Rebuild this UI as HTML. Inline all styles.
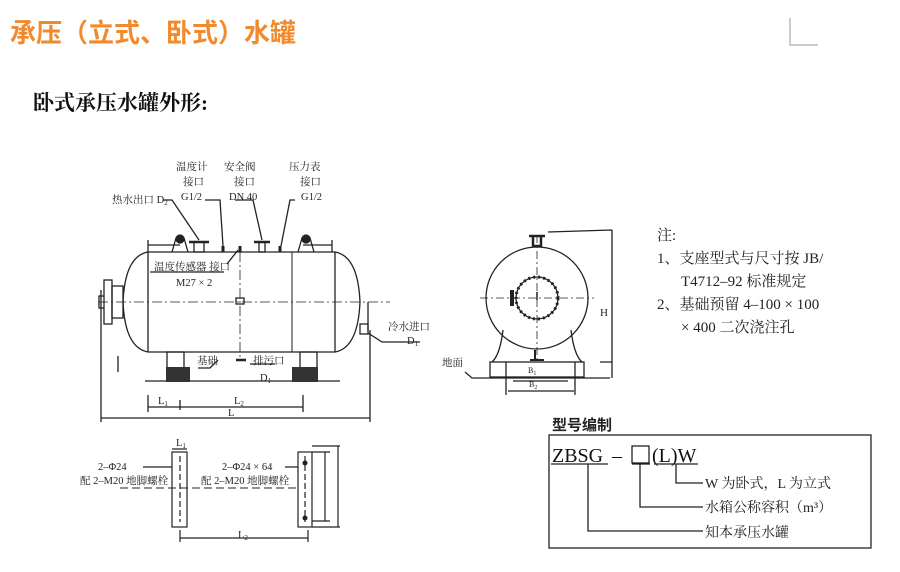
<!DOCTYPE html>
<html><head><meta charset="utf-8"><style>
body{margin:0;background:#fff;width:900px;height:572px;overflow:hidden}
svg{display:block}
.t{font-family:"Liberation Serif","Noto Serif CJK SC",serif;fill:#222}
</style></head><body>
<svg width="900" height="572" viewBox="0 0 900 572" xmlns="http://www.w3.org/2000/svg">
<text x="10" y="42" font-family="'Liberation Sans','Noto Sans CJK SC',sans-serif" font-weight="bold" font-size="26" fill="#f08a2c">承压（立式、卧式）水罐</text>
<path d="M790 18V45H818" stroke="#999" fill="none" stroke-width="1"/>
<text x="33" y="110" font-family="'Liberation Serif','Noto Serif CJK SC',serif" font-weight="bold" font-size="21" fill="#111">卧式承压水罐外形:</text>

<g stroke="#222" fill="none" stroke-width="1.3">
<path d="M148 252H335Q358 256 360 302Q358 348 335 352H148Q125 348 123 302Q125 256 148 252Z"/>
<line x1="148" y1="252" x2="148" y2="352"/><line x1="335" y1="252" x2="335" y2="352"/>
<line x1="292" y1="252" x2="292" y2="352" stroke-width="1"/>
<line x1="98" y1="302" x2="390" y2="302" stroke-dasharray="10,3,2,3" stroke-width="0.8"/>
<line x1="240" y1="252" x2="240" y2="360" stroke-dasharray="10,3,2,3" stroke-width="0.8"/>
<rect x="236" y="298" width="8" height="6"/>
<rect x="112" y="286" width="11" height="32"/><rect x="104" y="280" width="8" height="44"/>
<path d="M104 296h-5v12h5"/>
<rect x="194" y="242" width="10" height="10"/><line x1="189" y1="242" x2="209" y2="242" stroke-width="2.5"/>
<rect x="259" y="242" width="6" height="10"/><line x1="254" y1="242" x2="270" y2="242" stroke-width="2.5"/>
<path d="M172 252l4-14h8l4 14M298 252l4-14h8l4 14"/>
<circle cx="180" cy="239" r="4" fill="#222"/><circle cx="306" cy="239" r="4" fill="#222"/>
<line x1="223" y1="246" x2="223" y2="252" stroke-width="3"/><line x1="240" y1="246" x2="240" y2="252" stroke-width="3"/><line x1="280" y1="246" x2="280" y2="252" stroke-width="3"/>
<line x1="236" y1="360" x2="246" y2="360" stroke-width="2.5"/>
<rect x="360" y="324" width="8" height="10"/>
<rect x="167" y="352" width="17" height="16"/><rect x="300" y="352" width="17" height="16"/>
<line x1="145" y1="381" x2="340" y2="381"/>
<path d="M163 200H172L199 240M205 200H220L223 246M235 200H253L262 240M295 200H290L281 246M227 264L238 250M150 272H224M198 368H210L218 360M250 364H275M368 333L382 342H420"/>
<path d="M148 407H303M180 400V410M148 395V412M303 395V412M101 418H370M101 290V422M370 330V422M148 245H180M303 245H332M148 240V252M332 240V252M118 356V372M368 302V330"/>
</g>
<rect x="166" y="367" width="24" height="15" fill="#333"/><rect x="292" y="367" width="26" height="15" fill="#333"/>
<g class="t" font-size="10.5">
<text x="176" y="170">温度计</text><text x="183" y="185">接口</text><text x="181" y="200">G1/2</text>
<text x="224" y="170">安全阀</text><text x="234" y="185">接口</text><text x="229" y="200">DN 40</text>
<text x="289" y="170">压力表</text><text x="300" y="185">接口</text><text x="301" y="200">G1/2</text>
<text x="112" y="203">热水出口 D<tspan font-size="7" dy="2">2</tspan></text>
<text x="154" y="270">温度传感器 接口</text><text x="176" y="286">M27 × 2</text>
<text x="197" y="364">基础</text><text x="253" y="364">排污口</text><text x="260" y="381">D<tspan font-size="7" dy="2">1</tspan></text>
<text x="388" y="330">冷水进口</text><text x="407" y="344">D<tspan font-size="7" dy="2">1</tspan></text>
<text x="158" y="404">L<tspan font-size="7" dy="2">1</tspan></text><text x="234" y="404">L<tspan font-size="7" dy="2">2</tspan></text><text x="228" y="416">L</text>
<text x="98" y="470">2–Φ24</text><text x="80" y="484">配 2–M20 地脚螺栓</text>
<text x="222" y="470">2–Φ24 × 64</text><text x="201" y="484">配 2–M20 地脚螺栓</text>
<text x="176" y="446">L<tspan font-size="7" dy="2">1</tspan></text><text x="238" y="538">L<tspan font-size="7" dy="2">2</tspan></text>
<text x="442" y="366">地面</text><text x="528" y="373" font-size="8">B<tspan font-size="6" dy="2">1</tspan></text><text x="529" y="387" font-size="8">B<tspan font-size="6" dy="2">2</tspan></text>
<text x="600" y="316" font-size="11">H</text>
</g>
<g stroke="#222" fill="none" stroke-width="1.2">
<rect x="172" y="452" width="15" height="75"/><rect x="298" y="452" width="14" height="75"/>
<path d="M180 456V522M305 456V522" stroke-dasharray="6,3"/>
<path d="M120 488H298" stroke-dasharray="8,4" stroke-width="0.9"/>
<path d="M143 467H172M285 467H298M172 449H187M180 538H308M180 530V542M308 530V542M312 452H330M312 521H330M325 452V521M312 446H340M312 527H340M338 446V527"/>
</g>
<circle cx="305" cy="463" r="2.5" fill="#222"/><circle cx="305" cy="518" r="2.5" fill="#222"/>
<g stroke="#222" fill="none" stroke-width="1.3">
<circle cx="537" cy="298" r="51"/>
<circle cx="537" cy="298" r="21" stroke-width="3" stroke-dasharray="2,3"/>
<circle cx="537" cy="298" r="21"/>
<path d="M480 298H594M537 235V360" stroke-dasharray="8,3,2,3" stroke-width="0.8"/>
<path d="M503 330Q500 355 492 362M571 330Q574 355 582 362"/>
<rect x="490" y="362" width="94" height="15"/>
<path d="M465 372L472 378H610M506 362V395M575 362V395M508 391H574M513 381H568"/>
<path d="M533 236h8v10h-8zM529 236h16" stroke-width="2.5"/>
<path d="M535 350v10M530 360h14" stroke-width="2"/>
<path d="M512 290v16" stroke-width="4"/><path d="M537 292v8" stroke-width="1.5"/>
<path d="M548 232L612 230M612 230V378M600 362H612"/>
</g>
<g font-family="'Liberation Serif','Noto Serif CJK SC',serif" font-size="15" fill="#222">
<text x="657" y="240">注:</text>
<text x="657" y="263">1、支座型式与尺寸按 JB/</text>
<text x="681" y="286">T4712–92 标准规定</text>
<text x="657" y="309">2、基础预留 4–100 × 100</text>
<text x="681" y="332">× 400 二次浇注孔</text>
</g>
<text x="552" y="430" font-family="'Liberation Sans','Noto Sans CJK SC',sans-serif" font-weight="bold" font-size="15" fill="#222">型号编制</text>
<rect x="549" y="435" width="322" height="113" fill="none" stroke="#222" stroke-width="1.3"/>
<g font-family="'Liberation Serif','Noto Serif CJK SC',serif" font-size="20" fill="#111">
<text x="552" y="462">ZBSG</text>
<text x="612" y="462">–</text>
<text x="652" y="462">(L)W</text>
</g>
<rect x="632" y="446" width="17" height="17" fill="none" stroke="#111" stroke-width="1.2"/>
<g stroke="#222" fill="none" stroke-width="1.3">
<path d="M551 464H608M632 464H650M654 464H698"/>
<path d="M588 464V531H703M640 464V507H703M676 464V483H703"/>
</g>
<g font-family="'Liberation Serif','Noto Serif CJK SC',serif" font-size="14" fill="#222">
<text x="705" y="488">W 为卧式，L 为立式</text>
<text x="705" y="512">水箱公称容积（m³）</text>
<text x="705" y="537">知本承压水罐</text>
</g>
</svg>
</body></html>
